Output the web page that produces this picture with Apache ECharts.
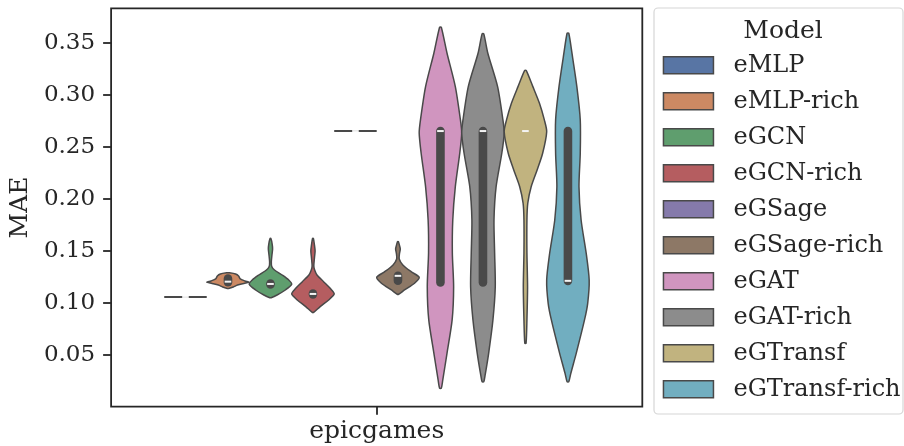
<!DOCTYPE html>
<html>
<head>
<meta charset="utf-8">
<script src="https://cdn.jsdelivr.net/npm/echarts@6/dist/echarts.min.js"></script>
<style>
  html, body { margin: 0; padding: 0; background: #fff; }
  #chart { width: 904px; height: 446px; }
</style>
</head>
<body>
<div id="chart"></div>
<script>
// Models compared on the epicgames dataset (one violin per model)
const categories = ['epicgames'];
const models = ['eMLP', 'eMLP-rich', 'eGCN', 'eGCN-rich', 'eGSage', 'eGSage-rich',
                'eGAT', 'eGAT-rich', 'eGTransf', 'eGTransf-rich'];
const yTicks = [0.05, 0.10, 0.15, 0.20, 0.25, 0.30, 0.35];

// Inner box statistics per model
const q1      = [0.1055, 0.1196, 0.1175, 0.1080, 0.265, 0.1212, 0.1195, 0.1195, 0.265, 0.1210];
const medians = [0.1055, 0.1202, 0.1180, 0.1084, 0.265, 0.1258, 0.265,  0.265,  0.265, 0.1210];
const q3      = [0.1055, 0.1231, 0.1185, 0.1088, 0.265, 0.1258, 0.265,  0.265,  0.265, 0.265];

// Kernel density profiles: [MAE, density relative to the violin's peak]
const kdeEMLP = [[0.1055, 1]];
const kdeEMLPRich = [[0.1137, 0.03], [0.1151, 0.25], [0.1170, 0.45], [0.1185, 0.75], [0.1196, 1],
  [0.1209, 0.80], [0.1228, 0.58], [0.1257, 0.50], [0.1276, 0.36], [0.1288, 0.04]];
const kdeEGCN = [[0.1048, 0.03], [0.1074, 0.31], [0.1122, 0.70], [0.1177, 1], [0.1218, 0.86],
  [0.1266, 0.55], [0.1314, 0.19], [0.1348, 0.06], [0.1391, 0.04], [0.1459, 0.07],
  [0.1516, 0.10], [0.1564, 0.08], [0.1617, 0.02]];
const kdeEGCNRich = [[0.0906, 0.03], [0.0962, 0.34], [0.1026, 0.74], [0.1084, 1], [0.1138, 0.81],
  [0.1202, 0.50], [0.1266, 0.19], [0.1314, 0.08], [0.1353, 0.04], [0.1430, 0.07],
  [0.1497, 0.10], [0.1555, 0.07], [0.1617, 0.02]];
const kdeEGSage = [[0.265, 1]];
const kdeEGSageRich = [[0.1081, 0.03], [0.1122, 0.31], [0.1187, 0.78], [0.1244, 1], [0.1298, 0.62],
  [0.1363, 0.23], [0.1420, 0.06], [0.1468, 0.07], [0.1516, 0.11], [0.1545, 0.08], [0.1587, 0.02]];
const kdeEGAT = [[0.0177, 0.04], [0.0257, 0.11], [0.0516, 0.31], [0.0834, 0.55], [0.1154, 0.62],
  [0.1478, 0.56], [0.1795, 0.58], [0.2115, 0.70], [0.2439, 0.91], [0.2632, 1],
  [0.2757, 0.94], [0.3077, 0.70], [0.3398, 0.31], [0.3648, 0.04]];
const kdeEGATRich = [[0.0240, 0.04], [0.0300, 0.10], [0.0516, 0.27], [0.0834, 0.47], [0.1154, 0.58],
  [0.1478, 0.55], [0.1795, 0.52], [0.2115, 0.62], [0.2439, 0.89], [0.2632, 1],
  [0.2757, 0.94], [0.3077, 0.69], [0.3398, 0.23], [0.3584, 0.04]];
const kdeEGTransf = [[0.0610, 0.03], [0.0834, 0.07], [0.1154, 0.10], [0.1478, 0.07], [0.1795, 0.07],
  [0.1956, 0.11], [0.2115, 0.27], [0.2276, 0.55], [0.2437, 0.81], [0.2644, 1],
  [0.2757, 0.89], [0.2917, 0.66], [0.3077, 0.35], [0.3231, 0.04]];
const kdeEGTransfRich = [[0.0240, 0.04], [0.0324, 0.14], [0.0513, 0.39], [0.0834, 0.78], [0.0994, 0.93],
  [0.1218, 1], [0.1475, 0.86], [0.1795, 0.62], [0.2115, 0.52], [0.2437, 0.58],
  [0.2757, 0.58], [0.3077, 0.42], [0.3398, 0.19], [0.3590, 0.04]];

const profiles = [kdeEMLP, kdeEMLPRich, kdeEGCN, kdeEGCNRich, kdeEGSage, kdeEGSageRich,
                  kdeEGAT, kdeEGATRich, kdeEGTransf, kdeEGTransfRich];

const palette = ['#5875A4', '#CC8963', '#5F9E6E', '#B55D60', '#857AAB', '#8D7866',
                 '#D095BF', '#8C8C8C', '#C1B37F', '#71AEC0'];
const edgeColor = '#494949';
const inkColor = '#262626';
const FONT = 'DejaVu Serif';

const SLOT = 0.8 / models.length;   // share of the category band per hue level

function violinRenderer(idx) {
  return function (params, api) {
    const band = api.size([1, 0])[0];
    const base = api.coord([0, 0]);
    const cx = base[0] + (idx - (models.length - 1) / 2) * SLOT * band;
    const half = SLOT / 2 * band;
    const prof = profiles[idx];
    const children = [];

    if (prof.length === 1) {
      // zero-spread results collapse to a flat stroke across the slot
      const y = api.coord([0, prof[0][0]])[1];
      children.push({
        type: 'line',
        shape: { x1: cx - half, y1: y, x2: cx + half, y2: y },
        style: { stroke: edgeColor, lineWidth: 2 }
      });
    } else {
      const pts = [];
      for (let k = 0; k < prof.length; k++) {
        const y = api.coord([0, prof[k][0]])[1];
        pts.push([cx + prof[k][1] * half, y]);
      }
      for (let k = prof.length - 1; k >= 0; k--) {
        const y = api.coord([0, prof[k][0]])[1];
        pts.push([cx - prof[k][1] * half, y]);
      }
      children.push({
        type: 'polygon',
        shape: { points: pts, smooth: 0.25 },
        style: { fill: palette[idx], stroke: edgeColor, lineWidth: 1.5, lineJoin: 'round' }
      });
    }

    if (q3[idx] > q1[idx]) {
      const yq1 = api.coord([0, q1[idx]])[1];
      const yq3 = api.coord([0, q3[idx]])[1];
      children.push({
        type: 'line',
        shape: { x1: cx, y1: yq1, x2: cx, y2: yq3 },
        style: { stroke: edgeColor, lineWidth: 8.6, lineCap: 'round' }
      });
    }

    const ym = api.coord([0, medians[idx]])[1];
    children.push({
      type: 'line',
      shape: { x1: cx - 3.3, y1: ym, x2: cx + 3.3, y2: ym },
      style: { stroke: '#f4f4f4', lineWidth: 2 }
    });

    return { type: 'group', children: children };
  };
}

const series = models.map(function (name, i) {
  return {
    type: 'custom',
    name: name,
    data: [[0, medians[i]]],
    encode: { x: 0, y: 1 },
    renderItem: violinRenderer(i),
    itemStyle: { color: palette[i], borderColor: edgeColor, borderWidth: 1.5 },
    silent: true
  };
});

const chart = echarts.init(document.getElementById('chart'), null, { renderer: 'canvas' });
chart.setOption({
  animation: false,
  backgroundColor: '#ffffff',
  textStyle: { fontFamily: FONT },
  grid: {
    left: 110, right: 261.7, top: 8.3, bottom: 39.3,
    show: true, borderColor: inkColor, borderWidth: 1.8, backgroundColor: 'transparent'
  },
  xAxis: {
    type: 'category',
    data: categories,
    axisLine: { show: false },
    axisTick: { show: true, alignWithLabel: true, length: 8, lineStyle: { color: inkColor, width: 1.8 } },
    axisLabel: { fontSize: 25, color: inkColor, fontFamily: FONT, margin: 12 },
    splitLine: { show: false }
  },
  yAxis: {
    type: 'value',
    min: 0,
    max: 0.383,
    name: 'MAE',
    nameLocation: 'middle',
    nameGap: 76,
    nameTextStyle: { fontSize: 25, color: inkColor, fontFamily: FONT },
    axisLine: { show: false },
    axisTick: { show: true, length: 8, customValues: yTicks, lineStyle: { color: inkColor, width: 1.8 } },
    axisLabel: {
      fontSize: 23, color: inkColor, fontFamily: FONT, margin: 16,
      customValues: yTicks,
      formatter: function (v) { return v.toFixed(2); }
    },
    splitLine: { show: false }
  },
  legend: {
    orient: 'vertical',
    left: 662.7,
    top: 47.3,
    padding: 0,
    itemGap: 0,
    itemWidth: 50,
    itemHeight: 17,
    icon: 'rect',
    selectedMode: false,
    data: models,
    itemStyle: { borderColor: edgeColor, borderWidth: 1.5 },
    textStyle: {
      fontSize: 24, color: inkColor, fontFamily: FONT,
      lineHeight: 28, padding: [8, 0, 0, 15]
    }
  },
  graphic: [
    {
      type: 'rect',
      z: -1,
      shape: { x: 654, y: 8, width: 249, height: 406, r: 4 },
      style: { fill: '#ffffff', stroke: '#d6d6d6', lineWidth: 1.2 }
    },
    {
      type: 'text',
      style: {
        x: 783, y: 31.5, text: 'Model', align: 'center', verticalAlign: 'middle',
        font: '25px "DejaVu Serif"', fill: inkColor
      }
    }
  ],
  series: series
});
</script>
</body>
</html>
